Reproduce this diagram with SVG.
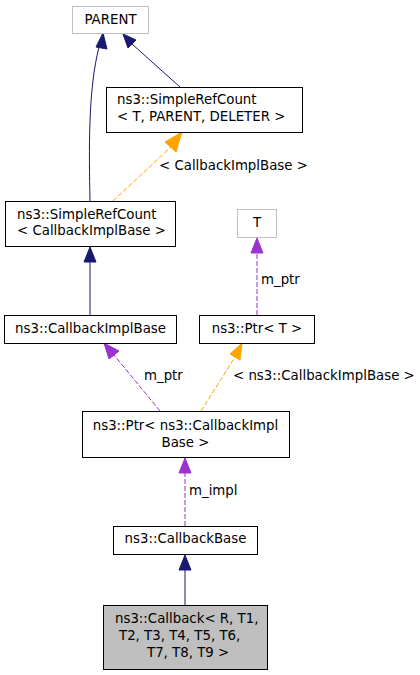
<svg xmlns="http://www.w3.org/2000/svg" width="420" height="675" viewBox="0 0 420 675">
<defs>
<style>
text{font-family:"DejaVu Sans","Liberation Sans",sans-serif;font-size:13.33px;fill:#000}
.box{fill:#fff;stroke:#000;stroke-width:1}
.gbox{fill:#fff;stroke:#bfbfbf;stroke-width:1}
.cur{fill:#bfbfbf;stroke:#000;stroke-width:1}
.inh{fill:none;stroke:#191970;stroke-width:1}
.tpl{fill:none;stroke:#ffa500;stroke-width:1;stroke-dasharray:5,2}
.use{fill:none;stroke:#9a32cd;stroke-width:1;stroke-dasharray:5,2}
.c{text-anchor:middle}
</style>
</defs>
<g id="edges">
<path class="inh" d="M90,201 C89,150 88,90 99,47"/>
<polygon points="103,33 96,47 107,49" fill="#191970" stroke="#191970"/>
<path class="inh" d="M180,87 L132,44"/>
<polygon points="123,34 128,48 136,40" fill="#191970" stroke="#191970"/>
<path class="tpl" d="M113,201 L171,147"/>
<polygon points="182,132 165,142 176,152" fill="#ffa500" stroke="#ffa500"/>
<text x="159" y="170">&lt; CallbackImplBase &gt;</text>
<path class="inh" d="M90,315 L90,262"/>
<polygon points="90,247 84,262 96,262" fill="#191970" stroke="#191970"/>
<path class="use" d="M257,315 L257,253"/>
<polygon points="257,238 251,253 263,253" fill="#9a32cd" stroke="#9a32cd"/>
<text x="261" y="284">m_ptr</text>
<path class="use" d="M160,411 L114,355"/>
<polygon points="104,343 109,359 119,351" fill="#9a32cd" stroke="#9a32cd"/>
<text x="144" y="380">m_ptr</text>
<path class="tpl" d="M201,411 L235,357"/>
<polygon points="242,343 230,354 240,360" fill="#ffa500" stroke="#ffa500"/>
<text x="233" y="380">&lt; ns3::CallbackImplBase &gt;</text>
<path class="use" d="M185,526 L185,473"/>
<polygon points="185,458 179,473 191,473" fill="#9a32cd" stroke="#9a32cd"/>
<text x="189" y="495">m_impl</text>
<path class="inh" d="M185,605 L185,570"/>
<polygon points="185,555 179,570 191,570" fill="#191970" stroke="#191970"/>
</g>
<g id="parent">
<rect class="gbox" x="72.5" y="6.5" width="76" height="27"/>
<text class="c" x="110.5" y="24">PARENT</text>
</g>
<g id="simplerefcount_t">
<rect class="box" x="106.5" y="87.5" width="196" height="45"/>
<text x="117" y="104">ns3::SimpleRefCount</text>
<text x="117" y="121">&lt; T, PARENT, DELETER &gt;</text>
</g>
<g id="simplerefcount_cb">
<rect class="box" x="5.5" y="201.5" width="170" height="45"/>
<text x="17" y="219">ns3::SimpleRefCount</text>
<text x="17" y="235">&lt; CallbackImplBase &gt;</text>
</g>
<g id="t">
<rect class="gbox" x="237.5" y="209.5" width="39" height="28"/>
<text class="c" x="257" y="227">T</text>
</g>
<g id="callbackimplbase">
<rect class="box" x="4.5" y="315.5" width="172" height="28"/>
<text class="c" x="90.5" y="333">ns3::CallbackImplBase</text>
</g>
<g id="ptr_t">
<rect class="box" x="199.5" y="315.5" width="115" height="28"/>
<text class="c" x="257" y="333">ns3::Ptr&lt; T &gt;</text>
</g>
<g id="ptr_cb">
<rect class="box" x="82.5" y="411.5" width="207" height="46"/>
<text class="c" x="185.5" y="430">ns3::Ptr&lt; ns3::CallbackImpl</text>
<text class="c" x="185.5" y="447">Base &gt;</text>
</g>
<g id="callbackbase">
<rect class="box" x="113.5" y="526.5" width="144" height="28"/>
<text class="c" x="185.5" y="543">ns3::CallbackBase</text>
</g>
<g id="callback">
<rect class="cur" x="103.5" y="605.5" width="164" height="64"/>
<text x="115" y="623">ns3::Callback&lt; R, T1,</text>
<text x="119" y="640">T2, T3, T4, T5, T6,</text>
<text x="147" y="657">T7, T8, T9 &gt;</text>
</g>
</svg>
